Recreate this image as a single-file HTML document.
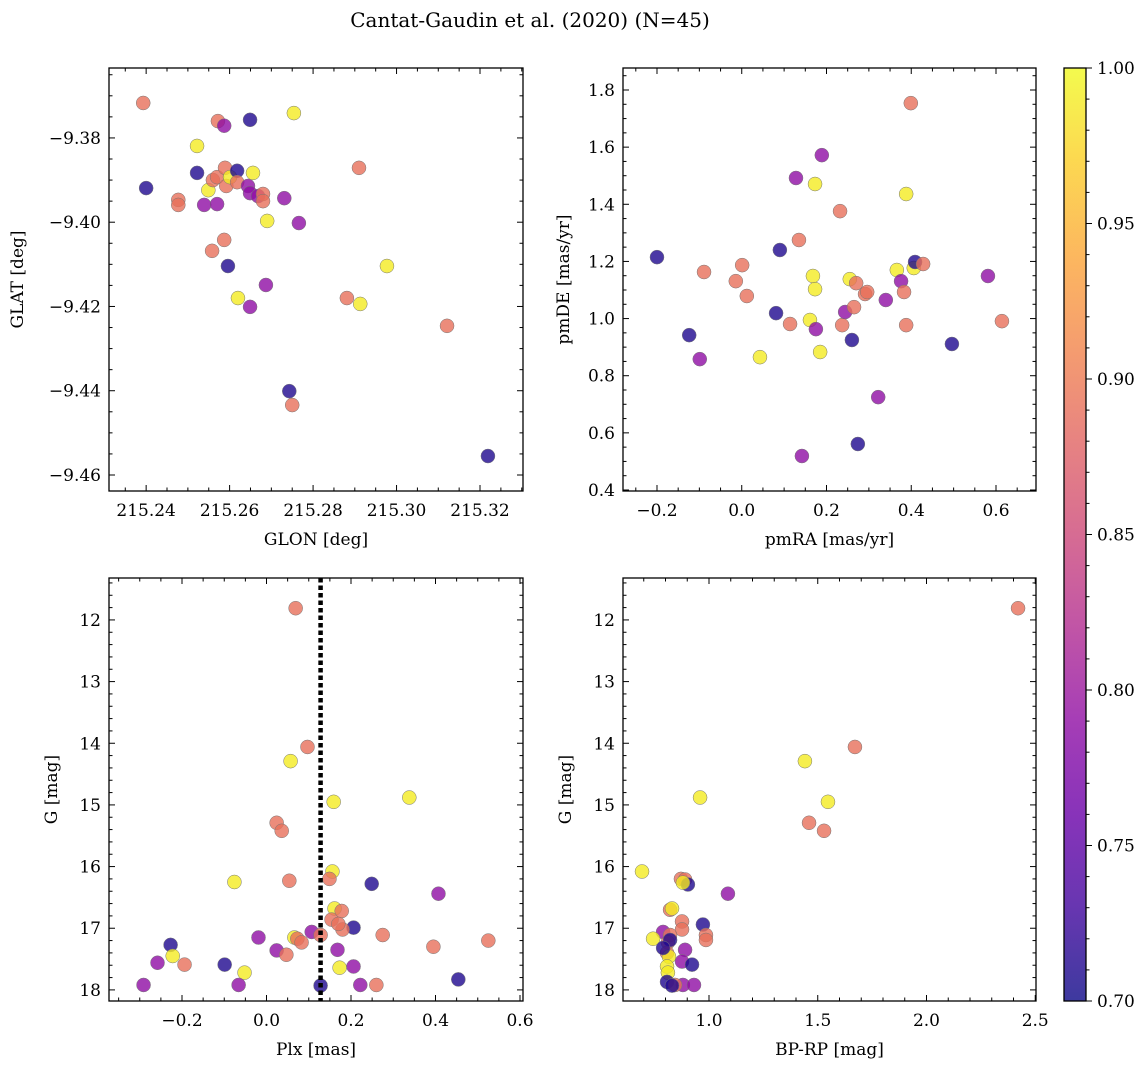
<!DOCTYPE html>
<html><head><meta charset="utf-8"><style>
html,body{margin:0;padding:0;background:#fff;}
svg text{font-family:"DejaVu Serif","Liberation Serif",serif;fill:#000;}
</style></head><body>
<svg id="fig" width="1148" height="1068" xmlns="http://www.w3.org/2000/svg">
<text x="530" y="27" font-size="20" text-anchor="middle">Cantat-Gaudin et al. (2020) (N=45)</text>
</svg>
<script>
// ---- Panel 1: GLON vs GLAT ----
const p1Glon=[215.2393,215.2400,215.2477,215.2477,215.2522,215.2522,215.2539,215.2549,215.2558,215.2560,215.2570,215.2570,215.2572,215.2587,215.2587,215.2589,215.2592,215.2596,215.2601,215.2618,215.2618,215.2620,215.2644,215.2649,215.2649,215.2649,215.2656,215.2668,215.2680,215.2680,215.2687,215.2690,215.2731,215.2743,215.2750,215.2754,215.2766,215.2881,215.2910,215.2913,215.2977,215.3121,215.3219];
const p1Glat=[-9.3717,-9.3919,-9.3947,-9.3959,-9.3819,-9.3883,-9.3959,-9.3924,-9.4068,-9.3900,-9.3893,-9.3957,-9.3760,-9.3771,-9.4042,-9.3871,-9.3914,-9.4104,-9.3893,-9.3878,-9.3905,-9.4180,-9.3914,-9.3931,-9.3757,-9.4201,-9.3883,-9.3938,-9.3933,-9.3950,-9.4149,-9.3997,-9.3943,-9.4401,-9.4434,-9.3741,-9.4002,-9.4180,-9.3871,-9.4194,-9.4104,-9.4246,-9.4555];
const p1Prob=[0.89,0.71,0.89,0.89,0.99,0.71,0.79,0.99,0.89,0.89,0.89,0.79,0.89,0.79,0.89,0.89,0.89,0.71,0.99,0.71,0.89,0.99,0.79,0.79,0.71,0.79,0.99,0.79,0.89,0.89,0.79,0.99,0.79,0.71,0.89,0.99,0.79,0.89,0.89,0.99,0.99,0.89,0.71];
// ---- Panel 2: pmRA vs pmDE ----
const p2Pmra=[-0.200,-0.124,-0.099,-0.089,-0.014,0.001,0.012,0.043,0.081,0.090,0.114,0.135,0.142,0.128,0.161,0.168,0.173,0.173,0.175,0.185,0.189,0.232,0.237,0.244,0.255,0.260,0.265,0.270,0.274,0.291,0.296,0.322,0.340,0.366,0.376,0.383,0.388,0.388,0.399,0.406,0.409,0.428,0.496,0.581,0.614];
const p2Pmde=[1.215,0.942,0.858,1.163,1.131,1.187,1.079,0.865,1.019,1.240,0.981,1.275,0.519,1.492,0.995,1.149,1.471,1.103,0.963,0.883,1.572,1.376,0.977,1.023,1.138,0.925,1.040,1.124,0.561,1.086,1.093,0.725,1.065,1.170,1.131,1.093,0.977,1.436,1.754,1.177,1.198,1.191,0.911,1.149,0.991];
const p2Prob=[0.71,0.71,0.79,0.89,0.89,0.89,0.89,0.99,0.71,0.71,0.89,0.89,0.79,0.79,0.99,0.99,0.99,0.99,0.79,0.99,0.79,0.89,0.89,0.79,0.99,0.71,0.89,0.89,0.71,0.89,0.89,0.79,0.79,0.99,0.79,0.89,0.89,0.99,0.89,0.99,0.71,0.89,0.71,0.79,0.89];
// ---- Panel 3: Plx vs G ----
const p3Plx=[0.069,0.097,0.057,0.159,0.338,0.024,0.036,0.156,0.149,0.054,0.249,0.407,-0.076,0.161,0.154,0.178,0.206,0.180,0.170,0.107,0.128,0.066,0.073,0.083,0.275,-0.019,0.525,0.395,-0.227,0.024,0.168,0.047,-0.258,-0.194,-0.222,-0.099,-0.052,0.173,0.206,-0.291,-0.066,0.128,0.222,0.260,0.454];
const p3G=[11.81,14.06,14.29,14.95,14.88,15.29,15.42,16.08,16.20,16.23,16.28,16.44,16.25,16.68,16.86,16.72,16.99,17.02,16.93,17.06,17.11,17.15,17.17,17.23,17.11,17.15,17.20,17.30,17.27,17.36,17.35,17.43,17.56,17.59,17.45,17.59,17.72,17.64,17.62,17.92,17.92,17.93,17.92,17.92,17.83];
const p3Prob=[0.89,0.89,0.99,0.99,0.99,0.89,0.89,0.99,0.89,0.89,0.71,0.79,0.99,0.99,0.89,0.89,0.71,0.89,0.89,0.79,0.89,0.99,0.89,0.89,0.89,0.79,0.89,0.89,0.71,0.79,0.79,0.89,0.79,0.89,0.99,0.71,0.99,0.99,0.79,0.79,0.79,0.71,0.79,0.89,0.71];
const p3Cut=[0.128];
// ---- Panel 4: BP-RP vs G ----
const p4Bprp=[2.421,1.671,1.441,0.959,1.547,1.460,1.529,0.692,0.871,0.890,0.903,0.880,1.087,0.821,0.830,0.972,0.986,0.986,0.876,0.876,0.789,0.743,0.821,0.811,0.821,0.890,0.807,0.816,0.789,0.876,0.922,0.807,0.811,0.807,0.880,0.931,0.844,0.830];
const p4G=[11.81,14.06,14.29,14.88,14.95,15.29,15.42,16.08,16.20,16.21,16.29,16.26,16.44,16.70,16.68,16.94,17.11,17.19,16.89,17.02,17.06,17.17,17.11,17.23,17.19,17.35,17.40,17.46,17.32,17.54,17.59,17.62,17.72,17.87,17.92,17.92,17.92,17.93];
const p4Prob=[0.89,0.89,0.99,0.99,0.99,0.89,0.89,0.99,0.89,0.89,0.71,0.99,0.79,0.89,0.99,0.71,0.89,0.89,0.89,0.89,0.79,0.99,0.89,0.89,0.71,0.79,0.89,0.99,0.71,0.79,0.71,0.99,0.99,0.71,0.79,0.79,0.89,0.71];
// ---- Colorbar ----
const cbTicks=[0.70,0.75,0.80,0.85,0.90,0.95,1.00];

const NS="http://www.w3.org/2000/svg";
const svg=document.getElementById('fig');
function mk(tag,attrs,parent){const e=document.createElementNS(NS,tag);for(const k in attrs)e.setAttribute(k,attrs[k]);(parent||svg).appendChild(e);return e;}
const plasma=[[13,8,135],[65,4,157],[106,0,168],[143,13,164],[177,42,144],[204,71,120],[225,100,98],[242,132,75],[252,166,54],[252,206,37],[240,249,33]];
function cmap(p){let t=Math.max(0,Math.min(1,(p-0.7)/0.3))*10;let i=Math.min(9,Math.floor(t));let f=t-i;const a=plasma[i],b=plasma[i+1];return 'rgb('+[0,1,2].map(k=>Math.round(a[k]+(b[k]-a[k])*f)).join(',')+')';}
function fmt(v,d){let s=v.toFixed(d);if(s.startsWith('-'))s='\u2212'+s.slice(1);if(/^\u2212?0(\.0+)?$/.test(s))s=s.replace('\u2212','');return s;}

function panel(o){
  const g=mk('g',{});
  
  
  const sx=v=>o.x0+(v-o.xmin)/(o.xmax-o.xmin)*(o.x1-o.x0);
  const sy=o.inv?(v=>o.y0+(v-o.ymin)/(o.ymax-o.ymin)*(o.y1-o.y0)):(v=>o.y1-(v-o.ymin)/(o.ymax-o.ymin)*(o.y1-o.y0));
  const pts=mk('g',{},g);
  
  
  for(let i=0;i<o.xs.length;i++){
    const c=mk('circle',{cx:sx(o.xs[i]),cy:sy(o.ys[i]),r:7,fill:cmap(o.ps[i]),'fill-opacity':0.8,stroke:'#777','stroke-width':0.5},pts);
    
    
  }
  if(o.cut){
    const l=mk('line',{x1:sx(o.cut[0]),x2:sx(o.cut[0]),y1:o.y0,y2:o.y1,stroke:'#000','stroke-width':4.5,'stroke-dasharray':'4.5,3'},g);
    
    
  }
  const tk=mk('g',{stroke:'#000','stroke-width':1},g);
  const eps=1e-9;
  let start=Math.ceil((o.xmin-eps)/o.xminor)*o.xminor;
  for(let v=start;v<=o.xmax+eps;v+=o.xminor){
    const maj=Math.abs(v/o.xmajor-Math.round(v/o.xmajor))<1e-6;const L=maj?6:3.5;const X=sx(v);
    mk('line',{x1:X,x2:X,y1:o.y1,y2:o.y1-L},tk);mk('line',{x1:X,x2:X,y1:o.y0,y2:o.y0+L},tk);
    if(maj){const t=mk('text',{x:X,y:o.y1+25,'font-size':17,'text-anchor':'middle',stroke:'none'},g);t.textContent=fmt(v,o.xdec);
      }
  }
  start=Math.ceil((o.ymin-eps)/o.yminor)*o.yminor;
  for(let v=start;v<=o.ymax+eps;v+=o.yminor){
    const maj=Math.abs(v/o.ymajor-Math.round(v/o.ymajor))<1e-6;const L=maj?6:3.5;const Y=sy(v);
    mk('line',{x1:o.x0,x2:o.x0+L,y1:Y,y2:Y},tk);mk('line',{x1:o.x1,x2:o.x1-L,y1:Y,y2:Y},tk);
    if(maj){const t=mk('text',{x:o.x0-8,y:Y+6,'font-size':17,'text-anchor':'end',stroke:'none'},g);t.textContent=fmt(v,o.ydec);
      }
  }
  const fr=mk('rect',{x:o.x0,y:o.y0,width:o.x1-o.x0,height:o.y1-o.y0,fill:'none',stroke:'#000','stroke-width':1.3},g);
  
  const xl=mk('text',{x:(o.x0+o.x1)/2,y:o.y1+54,'font-size':17,'text-anchor':'middle'},g);xl.textContent=o.xlab;
  
  const yx=o.ylx,yy=(o.y0+o.y1)/2;
  const yl=mk('text',{x:yx,y:yy,'font-size':17,'text-anchor':'middle',transform:'rotate(-90 '+yx+' '+yy+')'},g);yl.textContent=o.ylab;
  
}
panel({name:'glon-glat-panel',x0:109,x1:523,y0:68,y1:491,xmin:215.2311,xmax:215.3303,ymin:-9.4638,ymax:-9.3634,xmajor:0.02,xminor:0.005,ymajor:0.02,yminor:0.005,xdec:2,ydec:2,xs:p1Glon,ys:p1Glat,ps:p1Prob,xlab:'GLON [deg]',ylab:'GLAT [deg]',ylx:23});
panel({name:'proper-motion-panel',x0:623,x1:1036,y0:68,y1:491,xmin:-0.2802,xmax:0.6944,ymin:0.3965,ymax:1.877,xmajor:0.2,xminor:0.05,ymajor:0.2,yminor:0.05,xdec:1,ydec:1,xs:p2Pmra,ys:p2Pmde,ps:p2Prob,xlab:'pmRA [mas/yr]',ylab:'pmDE [mas/yr]',ylx:569});
panel({name:'parallax-mag-panel',x0:109,x1:523,y0:578,y1:1001,xmin:-0.3728,xmax:0.6071,ymin:11.32,ymax:18.18,inv:true,xmajor:0.2,xminor:0.05,ymajor:1,yminor:0.2,xdec:1,ydec:0,xs:p3Plx,ys:p3G,ps:p3Prob,cut:p3Cut,xlab:'Plx [mas]',ylab:'G [mag]',ylx:57});
panel({name:'color-mag-panel',x0:623,x1:1036,y0:578,y1:1001,xmin:0.6046,xmax:2.5035,ymin:11.32,ymax:18.18,inv:true,xmajor:0.5,xminor:0.1,ymajor:1,yminor:0.2,xdec:1,ydec:0,xs:p4Bprp,ys:p4G,ps:p4Prob,xlab:'BP-RP [mag]',ylab:'G [mag]',ylx:571});

const cb=mk('g',{});


const defs=mk('defs',{},cb);
const lg=mk('linearGradient',{id:'cbg',x1:0,y1:1,x2:0,y2:0},defs);
for(let i=0;i<=20;i++){mk('stop',{offset:i/20,'stop-color':cmap(0.7+0.3*i/20),'stop-opacity':0.8},lg);}
const cx0=1064,cx1=1086,cy0=68,cy1=1001;
mk('rect',{x:cx0,y:cy0,width:cx1-cx0,height:cy1-cy0,fill:'url(#cbg)'},cb);
const csy=v=>cy1-(v-0.7)/0.3*(cy1-cy0);
for(let v=0.70;v<=1.0001;v+=0.01){const Y=csy(v);mk('line',{x1:cx1,x2:cx1+3.5,y1:Y,y2:Y,stroke:'#000','stroke-width':1},cb);}
for(const v of cbTicks){const Y=csy(v);mk('line',{x1:cx1,x2:cx1+6,y1:Y,y2:Y,stroke:'#000','stroke-width':1},cb);
  const t=mk('text',{x:cx1+11,y:Y+6,'font-size':17},cb);t.textContent=v.toFixed(2);
  }
mk('rect',{x:cx0,y:cy0,width:cx1-cx0,height:cy1-cy0,fill:'none',stroke:'#000','stroke-width':1.3},cb);
</script>
</body></html>
